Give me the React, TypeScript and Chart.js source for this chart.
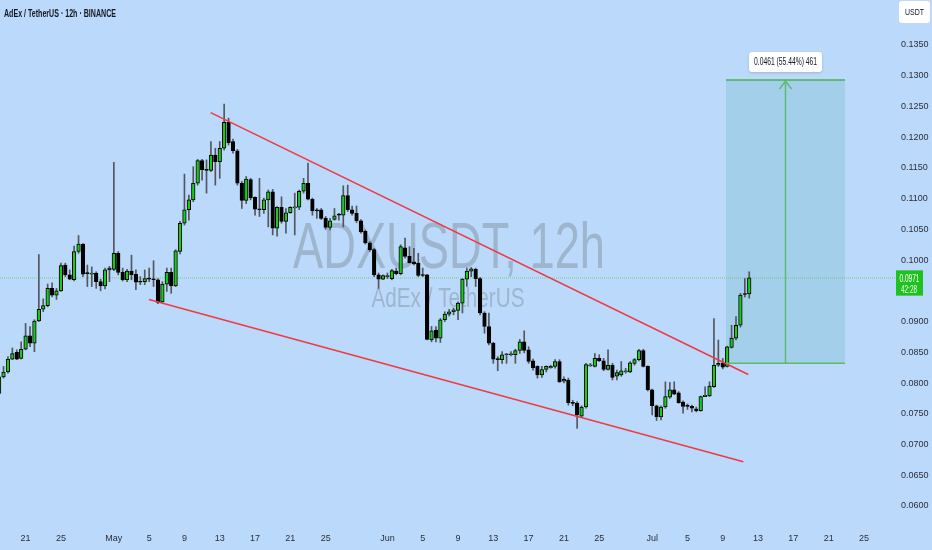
import React, { useEffect, useRef } from 'react';
import { Chart, registerables } from 'chart.js';

Chart.register(...registerables);

// ---- time axis (days counted from Apr 1; one candle every 12 hours) ----
const FIRST_CANDLE_DAY = 17; // Apr 18, 00:00
const CANDLE_STEP_DAYS = 0.5; // 12h

// ---- candle values (ADX/USDT 12h) ----
const opens = [
  0.0783, 0.0810, 0.0818, 0.0839, 0.0850, 0.0840, 0.0855, 0.0877, 0.0865, 0.0901,
  0.0920, 0.0926, 0.0954, 0.0943, 0.0950, 0.0992, 0.0976, 0.0968, 0.1014, 0.1026,
  0.0979, 0.0977, 0.0979, 0.0965, 0.0958, 0.0984, 0.0985, 0.1011, 0.0980, 0.0968,
  0.0982, 0.0977, 0.0965, 0.0965, 0.0970, 0.0969, 0.0968, 0.0932, 0.0961, 0.0980,
  0.0958, 0.1014, 0.1060, 0.1082, 0.1098, 0.1125, 0.1162, 0.1147, 0.1146, 0.1171,
  0.1160, 0.1182, 0.1224, 0.1193, 0.1178, 0.1125, 0.1097, 0.1131, 0.1102, 0.1083,
  0.1082, 0.1098, 0.1111, 0.1052, 0.1086, 0.1063, 0.1077, 0.1085, 0.1086, 0.1112,
  0.1125, 0.1099, 0.1082, 0.1082, 0.1068, 0.1053, 0.1066, 0.1075, 0.1073, 0.1105,
  0.1082, 0.1076, 0.1064, 0.1047, 0.1028, 0.1017, 0.0976, 0.0969, 0.0973, 0.0970,
  0.0982, 0.0978, 0.1020, 0.1006, 0.0997, 0.0995, 0.0976, 0.0976, 0.0870, 0.0886,
  0.0873, 0.0903, 0.0912, 0.0916, 0.0918, 0.0930, 0.0969, 0.0982, 0.0985, 0.0970,
  0.0914, 0.0892, 0.0865, 0.0839, 0.0838, 0.0846, 0.0846, 0.0846, 0.0853, 0.0867,
  0.0854, 0.0836, 0.0827, 0.0813, 0.0822, 0.0825, 0.0827, 0.0835, 0.0803, 0.0805,
  0.0768, 0.0767, 0.0746, 0.0761, 0.0828, 0.0827, 0.0840, 0.0836, 0.0822, 0.0829,
  0.0811, 0.0813, 0.0818, 0.0818, 0.0832, 0.0838, 0.0853, 0.0827, 0.0789, 0.0763,
  0.0745, 0.0761, 0.0777, 0.0789, 0.0784, 0.0769, 0.0763, 0.0762, 0.0758, 0.0755,
  0.0778, 0.0779, 0.0794, 0.0829, 0.0833, 0.0827, 0.0858, 0.0873, 0.0894, 0.0945,
  0.0945,
];
const highs = [
  0.0816, 0.0827, 0.0843, 0.0857, 0.0854, 0.0867, 0.0897, 0.0892, 0.0903, 0.1009,
  0.0937, 0.0961, 0.0963, 0.0954, 0.0995, 0.0995, 0.0984, 0.1023, 0.1040, 0.1027,
  0.0992, 0.0989, 0.0981, 0.0969, 0.0987, 0.0990, 0.1159, 0.1014, 0.0987, 0.0985,
  0.1008, 0.0984, 0.0973, 0.0984, 0.0987, 0.0999, 0.0970, 0.0965, 0.0987, 0.0987,
  0.1017, 0.1063, 0.1140, 0.1106, 0.1152, 0.1164, 0.1164, 0.1163, 0.1193, 0.1182,
  0.1193, 0.1254, 0.1231, 0.1197, 0.1180, 0.1128, 0.1136, 0.1133, 0.1103, 0.1133,
  0.1101, 0.1114, 0.1115, 0.1087, 0.1103, 0.1084, 0.1087, 0.1109, 0.1114, 0.1133,
  0.1158, 0.1101, 0.1084, 0.1084, 0.1071, 0.1068, 0.1084, 0.1076, 0.1121, 0.1122,
  0.1088, 0.1088, 0.1066, 0.1049, 0.1030, 0.1019, 0.0979, 0.0976, 0.0979, 0.0985,
  0.0987, 0.1025, 0.1036, 0.1022, 0.1019, 0.1011, 0.0987, 0.0977, 0.0892, 0.0892,
  0.0905, 0.0916, 0.0920, 0.0922, 0.0932, 0.0970, 0.0987, 0.0988, 0.0987, 0.0972,
  0.0916, 0.0914, 0.0866, 0.0843, 0.0851, 0.0848, 0.0851, 0.0855, 0.0871, 0.0885,
  0.0859, 0.0839, 0.0828, 0.0827, 0.0828, 0.0829, 0.0838, 0.0838, 0.0810, 0.0808,
  0.0772, 0.0770, 0.0763, 0.0832, 0.0832, 0.0848, 0.0846, 0.0840, 0.0854, 0.0832,
  0.0821, 0.0835, 0.0824, 0.0835, 0.0840, 0.0855, 0.0855, 0.0828, 0.0790, 0.0764,
  0.0763, 0.0802, 0.0801, 0.0802, 0.0786, 0.0771, 0.0766, 0.0764, 0.0761, 0.0779,
  0.0794, 0.0802, 0.0905, 0.0870, 0.0840, 0.0860, 0.0894, 0.0908, 0.0946, 0.0970,
  0.0981,
];
const lows = [
  0.0772, 0.0808, 0.0816, 0.0838, 0.0838, 0.0839, 0.0854, 0.0859, 0.0851, 0.0900,
  0.0916, 0.0924, 0.0940, 0.0936, 0.0949, 0.0973, 0.0968, 0.0966, 0.1011, 0.0973,
  0.0957, 0.0957, 0.0954, 0.0950, 0.0953, 0.0965, 0.0983, 0.0976, 0.0966, 0.0965,
  0.0968, 0.0952, 0.0960, 0.0960, 0.0965, 0.0957, 0.0929, 0.0931, 0.0949, 0.0946,
  0.0957, 0.1010, 0.1057, 0.1065, 0.1095, 0.1122, 0.1130, 0.1109, 0.1144, 0.1122,
  0.1133, 0.1179, 0.1187, 0.1174, 0.1122, 0.1084, 0.1092, 0.1098, 0.1073, 0.1071,
  0.1076, 0.1054, 0.1041, 0.1039, 0.1060, 0.1044, 0.1076, 0.1041, 0.1082, 0.1109,
  0.1098, 0.1073, 0.1068, 0.1066, 0.1050, 0.1049, 0.1065, 0.1065, 0.1054, 0.1079,
  0.1073, 0.1061, 0.1044, 0.1026, 0.1014, 0.0973, 0.0954, 0.0968, 0.0970, 0.0968,
  0.0976, 0.0976, 0.1003, 0.0995, 0.0992, 0.0973, 0.0973, 0.0870, 0.0867, 0.0867,
  0.0866, 0.0900, 0.0909, 0.0911, 0.0903, 0.0914, 0.0957, 0.0973, 0.0957, 0.0911,
  0.0881, 0.0862, 0.0832, 0.0820, 0.0832, 0.0832, 0.0844, 0.0832, 0.0848, 0.0849,
  0.0832, 0.0821, 0.0808, 0.0809, 0.0818, 0.0824, 0.0824, 0.0801, 0.0800, 0.0764,
  0.0763, 0.0726, 0.0745, 0.0759, 0.0827, 0.0826, 0.0835, 0.0820, 0.0821, 0.0805,
  0.0805, 0.0811, 0.0816, 0.0817, 0.0829, 0.0836, 0.0826, 0.0787, 0.0748, 0.0739,
  0.0740, 0.0759, 0.0775, 0.0781, 0.0767, 0.0751, 0.0757, 0.0753, 0.0753, 0.0754,
  0.0778, 0.0778, 0.0793, 0.0827, 0.0823, 0.0826, 0.0857, 0.0870, 0.0891, 0.0940,
  0.0938,
];
const closes = [
  0.0810, 0.0818, 0.0839, 0.0848, 0.0839, 0.0855, 0.0877, 0.0865, 0.0901, 0.0920,
  0.0926, 0.0954, 0.0943, 0.0950, 0.0991, 0.0976, 0.0969, 0.1014, 0.1026, 0.0977,
  0.0978, 0.0979, 0.0965, 0.0958, 0.0984, 0.0987, 0.1011, 0.0980, 0.0968, 0.0982,
  0.0976, 0.0964, 0.0964, 0.0970, 0.0969, 0.0968, 0.0931, 0.0961, 0.0980, 0.0958,
  0.1015, 0.1060, 0.1082, 0.1098, 0.1125, 0.1162, 0.1147, 0.1146, 0.1171, 0.1160,
  0.1182, 0.1224, 0.1191, 0.1178, 0.1125, 0.1097, 0.1132, 0.1101, 0.1083, 0.1082,
  0.1098, 0.1111, 0.1052, 0.1086, 0.1063, 0.1077, 0.1086, 0.1086, 0.1112, 0.1125,
  0.1099, 0.1080, 0.1080, 0.1068, 0.1053, 0.1064, 0.1072, 0.1073, 0.1105, 0.1082,
  0.1076, 0.1064, 0.1046, 0.1028, 0.1017, 0.0976, 0.0969, 0.0975, 0.0974, 0.0983,
  0.0978, 0.1022, 0.1006, 0.0996, 0.0994, 0.0975, 0.0975, 0.0871, 0.0885, 0.0873,
  0.0903, 0.0912, 0.0916, 0.0919, 0.0930, 0.0969, 0.0982, 0.0986, 0.0970, 0.0914,
  0.0892, 0.0865, 0.0839, 0.0838, 0.0846, 0.0847, 0.0847, 0.0853, 0.0867, 0.0853,
  0.0835, 0.0825, 0.0813, 0.0822, 0.0827, 0.0827, 0.0835, 0.0802, 0.0806, 0.0768,
  0.0767, 0.0748, 0.0761, 0.0830, 0.0829, 0.0840, 0.0836, 0.0822, 0.0829, 0.0809,
  0.0817, 0.0820, 0.0820, 0.0833, 0.0838, 0.0853, 0.0827, 0.0789, 0.0763, 0.0745,
  0.0761, 0.0778, 0.0789, 0.0782, 0.0768, 0.0762, 0.0762, 0.0759, 0.0755, 0.0778,
  0.0780, 0.0795, 0.0829, 0.0832, 0.0826, 0.0859, 0.0873, 0.0894, 0.0943, 0.0944,
  0.0971,
];

// ---- axes ----
const xTickDays = [20, 24, 30, 34, 38, 42, 46, 50, 54, 61, 65, 69, 73, 77, 81, 85, 91, 95, 99, 103, 107, 111, 115];
const xTickLabels = ['21', '25', 'May', '5', '9', '13', '17', '21', '25', 'Jun', '5', '9', '13', '17', '21', '25', 'Jul', '5', '9', '13', '17', '21', '25'];
// 0.0950 is hidden behind the last-price label in the reference
const yTickValues = [0.06, 0.065, 0.07, 0.075, 0.08, 0.085, 0.09, 0.1, 0.105, 0.11, 0.115, 0.12, 0.125, 0.13, 0.135];

// ---- drawings ----
const upperTrend = [
  { x: 40.97, y: 0.124 },
  { x: 101.89, y: 0.0814 },
];
const lowerTrend = [
  { x: 33.98, y: 0.0936 },
  { x: 101.33, y: 0.0672 },
];
const lastPrice = 0.0971;
const lastPriceText = '0.0971';
const countdownText = '42:28';
const rangeDays = [99.37, 112.85];
const rangePrices = [0.0832, 0.1293];
const rangeLabel = '0.0461 (55.44%) 461';
const titleText = 'AdEx / TetherUS · 12h · BINANCE';
const watermarkMain = 'ADXUSDT, 12h';
const watermarkSub = 'AdEx / TetherUS';
const currencyText = 'USDT';

// ---- view ----
const X_MIN = 17.1;
const X_MAX = 118.63;
const Y_MIN = 0.05739;
const Y_MAX = 0.14232;

const BG = '#bbdafb';
const GREEN = '#1ec81e';
const BLACK = '#000000';
const WICK = '#53565e';
const RED = '#ef3a45';
const FONT = '"Liberation Sans", Arial, sans-serif';

function drawText(
  ctx: CanvasRenderingContext2D,
  text: string,
  x: number,
  y: number,
  font: string,
  color: string,
  targetWidth: number,
  align: CanvasTextAlign = 'center',
  baseline: CanvasTextBaseline = 'middle'
) {
  ctx.save();
  ctx.font = font;
  ctx.fillStyle = color;
  ctx.textAlign = align;
  ctx.textBaseline = baseline;
  const w = ctx.measureText(text).width || 1;
  ctx.translate(x, y);
  ctx.scale(targetWidth / w, 1);
  ctx.fillText(text, 0, 0);
  ctx.restore();
}

function rrect(ctx: CanvasRenderingContext2D, x: number, y: number, w: number, h: number, r: number) {
  ctx.beginPath();
  ctx.moveTo(x + r, y);
  ctx.lineTo(x + w - r, y);
  ctx.quadraticCurveTo(x + w, y, x + w, y + r);
  ctx.lineTo(x + w, y + h - r);
  ctx.quadraticCurveTo(x + w, y + h, x + w - r, y + h);
  ctx.lineTo(x + r, y + h);
  ctx.quadraticCurveTo(x, y + h, x, y + h - r);
  ctx.lineTo(x, y + r);
  ctx.quadraticCurveTo(x, y, x + r, y);
  ctx.closePath();
}

const backgroundPlugin = {
  id: 'tvBackground',
  beforeDraw(chart: any) {
    const { ctx, width, height } = chart;
    ctx.save();
    ctx.fillStyle = BG;
    ctx.fillRect(0, 0, width, height);
    ctx.restore();
  },
};

const underlayPlugin = {
  id: 'tvUnderlay',
  beforeDatasetsDraw(chart: any) {
    const { ctx, chartArea } = chart;
    const xs = chart.scales.x;
    const ys = chart.scales.y;
    const cx = (chartArea.left + chartArea.right) / 2;
    const cy = (chartArea.top + chartArea.bottom) / 2;
    const wmColor = 'rgba(110,120,135,0.38)';
    drawText(ctx, watermarkMain, cx + 1, cy + 7, '64px ' + FONT, wmColor, 312, 'center', 'alphabetic');
    drawText(ctx, watermarkSub, cx, cy + 45.5, '27px ' + FONT, wmColor, 153, 'center', 'alphabetic');

    const x1 = xs.getPixelForValue(rangeDays[0]);
    const x2 = xs.getPixelForValue(rangeDays[1]);
    const yb = ys.getPixelForValue(rangePrices[0]);
    const yt = ys.getPixelForValue(rangePrices[1]);
    ctx.save();
    ctx.fillStyle = 'rgba(130,192,210,0.42)';
    ctx.fillRect(x1, yt, x2 - x1, yb - yt);
    ctx.restore();
  },
};

const overlayPlugin = {
  id: 'tvOverlay',
  afterDatasetsDraw(chart: any) {
    const { ctx } = chart;
    const xs = chart.scales.x;
    const ys = chart.scales.y;
    const x1 = xs.getPixelForValue(rangeDays[0]);
    const x2 = xs.getPixelForValue(rangeDays[1]);
    const yb = ys.getPixelForValue(rangePrices[0]);
    const yt = ys.getPixelForValue(rangePrices[1]);
    const xm = (x1 + x2) / 2;
    ctx.save();
    ctx.strokeStyle = '#45b34d';
    ctx.lineWidth = 1.5;
    ctx.beginPath();
    ctx.moveTo(x1, yt);
    ctx.lineTo(x2, yt);
    ctx.stroke();
    ctx.strokeStyle = '#5cbd63';
    ctx.beginPath();
    ctx.moveTo(x1, yb);
    ctx.lineTo(x2, yb);
    ctx.stroke();
    ctx.strokeStyle = 'rgba(80,180,90,0.8)';
    ctx.lineWidth = 1.5;
    ctx.beginPath();
    ctx.moveTo(xm, yb);
    ctx.lineTo(xm, yt + 1);
    ctx.moveTo(xm - 6, yt + 9);
    ctx.lineTo(xm, yt + 1);
    ctx.lineTo(xm + 6, yt + 9);
    ctx.stroke();
    ctx.shadowColor = 'rgba(0,0,0,0.18)';
    ctx.shadowBlur = 3;
    ctx.shadowOffsetY = 1;
    ctx.fillStyle = '#ffffff';
    rrect(ctx, xm - 36.5, yt - 28, 73, 20, 3);
    ctx.fill();
    ctx.restore();
    drawText(ctx, rangeLabel, xm, yt - 17.7, '10px ' + FONT, '#131722', 63);
  },
  afterDraw(chart: any) {
    const { ctx, chartArea } = chart;
    const ys = chart.scales.y;
    drawText(ctx, titleText, 4, 14, 'bold 10px ' + FONT, '#131722', 112, 'left');
    ctx.save();
    ctx.fillStyle = '#ffffff';
    rrect(ctx, chartArea.right + 3, 1, 31, 22, 3);
    ctx.fill();
    ctx.restore();
    drawText(ctx, currencyText, chartArea.right + 18.5, 12.5, '9px ' + FONT, '#131722', 19);
    const yl = ys.getPixelForValue(lastPrice);
    ctx.save();
    ctx.fillStyle = '#1fc11f';
    ctx.fillRect(chartArea.right, yl - 7.6, 27, 25.3);
    ctx.restore();
    drawText(ctx, lastPriceText, chartArea.right + 13.5, yl + 1, '10px ' + FONT, '#ffffff', 20);
    drawText(ctx, countdownText, chartArea.right + 13, yl + 12.4, '10px ' + FONT, '#e8ffe8', 16);
  },
};

export default function App() {
  const canvasRef = useRef<HTMLCanvasElement | null>(null);

  useEffect(() => {
    document.body.style.margin = '0';
    document.body.style.background = BG;
    const canvas = canvasRef.current;
    if (!canvas) return;

    const times = closes.map((_, i) => FIRST_CANDLE_DAY + i * CANDLE_STEP_DAYS);
    const bodyData = closes.map((c, i) => ({
      x: times[i],
      y: [Math.min(opens[i], c), Math.max(opens[i], c)],
    }));
    const wickData = closes.map((_, i) => ({ x: times[i], y: [lows[i], highs[i]] }));
    const bodyColors = closes.map((c, i) => (c >= opens[i] ? GREEN : BLACK));

    const tickFont = { family: FONT, size: 9 };

    const chart = new Chart(canvas, {
      type: 'bar',
      data: {
        datasets: [
          {
            type: 'line',
            data: upperTrend,
            borderColor: RED,
            borderWidth: 1.6,
            pointRadius: 0,
            fill: false,
            order: 0,
          } as any,
          {
            type: 'line',
            data: lowerTrend,
            borderColor: RED,
            borderWidth: 1.6,
            pointRadius: 0,
            fill: false,
            order: 0,
          } as any,
          {
            type: 'line',
            data: [
              { x: X_MIN, y: lastPrice },
              { x: X_MAX, y: lastPrice },
            ],
            borderColor: 'rgba(90,200,100,0.75)',
            borderWidth: 1,
            borderDash: [1, 1],
            pointRadius: 0,
            fill: false,
            order: 3,
          } as any,
          {
            type: 'bar',
            data: bodyData as any,
            backgroundColor: bodyColors,
            borderColor: BLACK,
            borderWidth: 1,
            borderSkipped: false,
            barThickness: 3.6,
            minBarLength: 1,
            grouped: false,
            order: 1,
          } as any,
          {
            type: 'bar',
            data: wickData as any,
            backgroundColor: WICK,
            borderWidth: 0,
            barThickness: 1,
            grouped: false,
            order: 2,
          } as any,
        ],
      },
      options: {
        responsive: false,
        animation: false,
        events: [],
        layout: { padding: 0 },
        plugins: {
          legend: { display: false },
          tooltip: { enabled: false },
          title: { display: false },
        },
        scales: {
          x: {
            type: 'linear',
            min: X_MIN,
            max: X_MAX,
            offset: false,
            grid: { display: false, drawTicks: false },
            border: { display: false },
            afterBuildTicks: (s: any) => {
              s.ticks = xTickDays.map((v) => ({ value: v }));
            },
            afterFit: (s: any) => {
              s.height = 28;
              s.paddingLeft = 0;
              s.paddingRight = 0;
            },
            ticks: {
              autoSkip: false,
              maxRotation: 0,
              padding: 11,
              color: '#2a2e39',
              font: tickFont,
              callback: (v: any) => {
                const k = xTickDays.indexOf(Number(v));
                return k >= 0 ? xTickLabels[k] : '';
              },
            },
          },
          y: {
            type: 'linear',
            position: 'right',
            min: Y_MIN,
            max: Y_MAX,
            grid: { display: false, drawTicks: false },
            border: { display: false },
            afterBuildTicks: (s: any) => {
              s.ticks = yTickValues.map((v) => ({ value: v }));
            },
            afterFit: (s: any) => {
              s.width = 36;
              s.paddingTop = 0;
              s.paddingBottom = 0;
            },
            ticks: {
              padding: 5,
              crossAlign: 'near',
              color: '#2a2e39',
              font: tickFont,
              callback: (v: any) => Number(v).toFixed(4),
            },
          },
        },
      } as any,
      plugins: [backgroundPlugin, underlayPlugin, overlayPlugin],
    });

    return () => {
      chart.destroy();
    };
  }, []);

  return (
    <div style={{ width: 932, height: 550 }}>
      <canvas ref={canvasRef} width={932} height={550} style={{ display: 'block' }} />
    </div>
  );
}
